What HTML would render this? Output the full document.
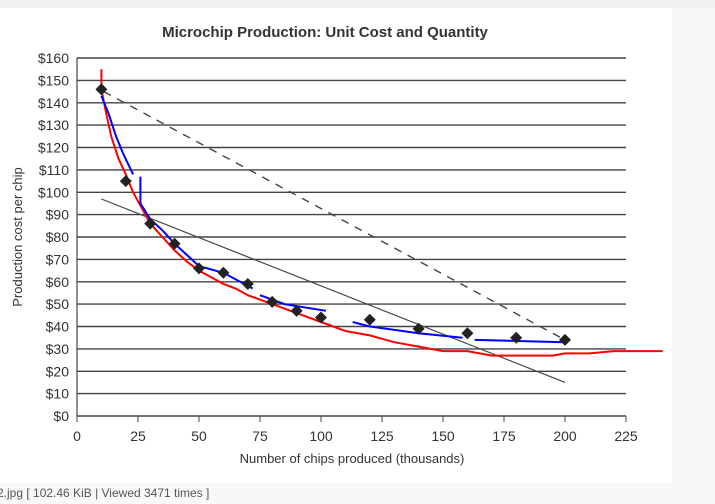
<!DOCTYPE html>
<html><head><meta charset="utf-8"><style>
body{margin:0;width:715px;height:504px;overflow:hidden;background:#f8f8f8;font-family:"Liberation Sans",sans-serif}
</style></head><body>
<svg id="s" width="715" height="504" xmlns="http://www.w3.org/2000/svg" style="position:absolute;left:0;top:0">
<rect x="0" y="0" width="715" height="504" fill="#f8f8f8"/>
<rect x="0" y="0" width="715" height="8" fill="#eff0f2"/>
<rect x="0" y="8" width="672" height="475" fill="#fff"/>
<text x="325" y="37" text-anchor="middle" font-size="15" font-weight="bold" fill="#333">Microchip Production: Unit Cost and Quantity</text>
<text x="352" y="463" text-anchor="middle" font-size="13" fill="#333">Number of chips produced (thousands)</text>
<text transform="translate(22,237) rotate(-90)" text-anchor="middle" font-size="13" fill="#333">Production cost per chip</text>
<text x="-3" y="497" font-size="12" fill="#555">2.jpg [ 102.46 KiB | Viewed 3471 times ]</text>
<g id="g"></g>
</svg>
<script>
const g=document.getElementById('g');let h='';
const X=v=>77+v*2.44, Y=c=>416-c*2.2375;
for(let c=0;c<=160;c+=10){const y=Y(c).toFixed(1);
h+=`<line x1="77" x2="626" y1="${y}" y2="${y}" stroke="#444" stroke-width="1.4"/>`;
h+=`<text x="69" y="${(+y+5).toFixed(1)}" text-anchor="end" font-size="14" fill="#333">$${c}</text>`;}
h+=`<line x1="77" x2="77" y1="58" y2="416" stroke="#444" stroke-width="1.2"/>`;
for(let v=0;v<=225;v+=25){const x=X(v).toFixed(1);
h+=`<line x1="${x}" x2="${x}" y1="416" y2="422" stroke="#444"/>`;
h+=`<text x="${x}" y="441" text-anchor="middle" font-size="14" fill="#333">${v}</text>`;}
const P=a=>a.map((p,i)=>(i?'L':'M')+X(p[0]).toFixed(1)+','+Y(p[1]).toFixed(1)).join('');
h+=`<path d="${P([[11,145],[200,34]])}" stroke="#444" stroke-width="1.4" stroke-dasharray="8,7" fill="none"/>`;
h+=`<path d="${P([[10,97],[200,15]])}" stroke="#444" stroke-width="1.2" fill="none"/>`;
h+=`<path d="${P([[10,155],[10,146],[12,135],[14,125],[17,115],[20,108],[23,100],[27,92],[30,86],[35,80],[40,74],[45,69],[50,65],[55,62],[60,59],[65,57],[70,54],[80,50],[90,46],[100,42],[110,38],[120,36],[130,33],[140,31],[150,29],[160,29],[170,27],[180,27],[195,27],[200,28],[210,28],[220,29],[240,29]])}" stroke="#f00" stroke-width="2" fill="none"/>`;
[[[10,143],[13,135],[16,125],[19,117],[23,108]],[[26,107],[26,95],[30,88],[35,83],[40,77],[45,72],[50,67],[60,64],[72,57]],[[75,54],[85,50],[102,47]],[[113,42],[120,40],[140,37],[158,35]],[[163,34],[200,33]]].forEach(s=>{
h+=`<path d="${P(s)}" stroke="#00f" stroke-width="2" fill="none"/>`;});
[[10,146],[20,105],[30,86],[40,77],[50,66],[60,64],[70,59],[80,51],[90,47],[100,44],[120,43],[140,39],[160,37],[180,35],[200,34]].forEach(p=>{
const x=X(p[0]),y=Y(p[1]);h+=`<path d="M${x},${y-6}L${x+6},${y}L${x},${y+6}L${x-6},${y}Z" fill="#222"/>`;});
g.innerHTML=h;
</script>
</body></html>
